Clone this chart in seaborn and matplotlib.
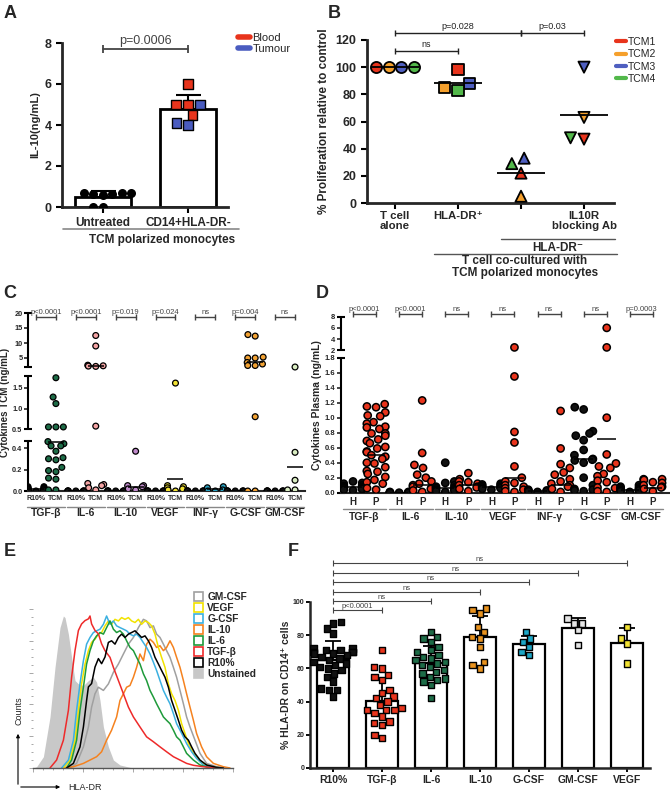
import warnings
import numpy as np
import pandas as pd
import matplotlib
matplotlib.use("Agg")
import matplotlib.pyplot as plt
from matplotlib.lines import Line2D
from matplotlib.patches import Patch, FancyArrowPatch
import seaborn as sns

warnings.filterwarnings("ignore")

# ---------------- data ----------------
# panel A
a_groups = ["Untreated", "CD14+HLA-DR-"]
a_untreated = [0.62, 0.66, 0.70, 0.64, 0.68, 0.60, 0.0, 0.0]
a_cd14 = [6.0, 5.0, 4.5, 5.0, 5.0, 4.0, 4.1]
a_cd14_src = ["Blood", "Blood", "Blood", "Blood", "Tumour", "Tumour", "Tumour"]

# panel B
b_conditions = ["T cell\nalone", "HLA-DR⁺", "HLA-DR⁻", "IL10R\nblocking Ab"]
b_tcm = ["TCM1", "TCM2", "TCM3", "TCM4"]
b_tcell = [100, 100, 100, 100]
b_hladr_pos = [98, 85, 88, 83]
b_hladr_neg = [22, 5, 33, 29]
b_il10r = [47, 63, 100, 48]
b_colors = ["#e8341c", "#f5a02c", "#4f5fc0", "#52b84a"]

# panel C
c_groups = ["TGF-β", "IL-6", "IL-10", "VEGF", "INF-γ", "G-CSF", "GM-CSF"]
c_r10 = [
    [0.04, 0.04, 0.03, 0.03, 0.02, 0.02, 0.02, 0.01, 0.01, 0.0],
    [0, 0, 0, 0, 0, 0, 0, 0],
    [0, 0, 0, 0, 0, 0, 0, 0],
    [0, 0, 0, 0, 0, 0, 0, 0],
    [0, 0, 0, 0, 0, 0, 0, 0],
    [0, 0, 0, 0, 0, 0, 0, 0],
    [0, 0, 0, 0, 0, 0, 0, 0],
]
c_tcm = [
    [1.75, 1.28, 1.12, 0.55, 0.55, 0.55, 0.46, 0.44, 0.42, 0.42, 0.37, 0.31,
     0.30, 0.29, 0.22, 0.19, 0.18, 0.12, 0.11, 0.01, 0.01],
    [12.5, 9.0, 2.6, 2.4, 2.3, 2.2, 0.57, 0.07, 0.06, 0.05, 0.03, 0.01],
    [0.37, 0.05, 0.05, 0.04, 0.02, 0.01],
    [1.62, 0.05, 0.04, 0.03, 0.02, 0.01, 0.0],
    [0.04, 0.03, 0.01, 0.0, 0.0],
    [12.8, 12.3, 5.3, 5.0, 5.0, 3.5, 3.0, 2.5, 2.5, 0.8, 0.0, 0.0],
    [2.0, 0.36, 0.10, 0.01, 0.01],
]
c_r10_line = [0.02, 0, 0, 0, 0, 0, 0]
c_tcm_line = [0.46, 2.4, 0.04, 0.11, 0.02, 3.6, 0.22]
c_pvals = ["p<0.0001", "p<0.0001", "p=0.019", "p=0.024", "ns", "p=0.004", "ns"]
c_colors = ["#1d6c47", "#f4a3a3", "#c08acb", "#f2e234", "#2aa2c2", "#f2a233", "#d9edc2"]

# panel D
d_groups = ["TGF-β", "IL-6", "IL-10", "VEGF", "INF-γ", "G-CSF", "GM-CSF"]
d_h = [
    [0.15, 0.13, 0.12, 0.10, 0.09, 0.08, 0.08, 0.07, 0.07, 0.06, 0.06, 0.05, 0.05, 0.04, 0.03],
    [0.01, 0.01, 0.0, 0.0, 0.0, 0.0, 0.0, 0.0],
    [0.40, 0.15, 0.13, 0.10, 0.08, 0.07, 0.06, 0.05, 0.05, 0.04, 0.03, 0.02, 0.01],
    [0.12, 0.11, 0.10, 0.09, 0.08, 0.07, 0.06, 0.05, 0.04],
    [0.04, 0.03, 0.03, 0.02, 0.02, 0.01],
    [1.14, 1.11, 0.82, 0.79, 0.76, 0.70, 0.57, 0.50, 0.45, 0.44, 0.43, 0.40,
     0.20, 0.10, 0.05, 0.04, 0.03, 0.02],
    [0.10, 0.08, 0.07, 0.06, 0.05, 0.04, 0.03, 0.02, 0.01],
]
d_p = [
    [1.18, 1.15, 1.14, 1.07, 1.03, 1.02, 0.94, 0.92, 0.88, 0.87, 0.85, 0.79,
     0.79, 0.76, 0.71, 0.69, 0.66, 0.61, 0.59, 0.55, 0.54, 0.50, 0.48, 0.45,
     0.40, 0.39, 0.34, 0.29, 0.28, 0.25, 0.21, 0.17, 0.14, 0.12, 0.06, 0.04],
    [1.23, 0.53, 0.37, 0.33, 0.24, 0.20, 0.15, 0.12, 0.10, 0.08, 0.06, 0.05, 0.03, 0.01],
    [0.26, 0.18, 0.15, 0.14, 0.12, 0.10, 0.08, 0.07, 0.05, 0.02],
    [2.5, 1.55, 0.81, 0.67, 0.35, 0.20, 0.15, 0.13, 0.10, 0.08, 0.06, 0.04, 0.02, 0.01],
    [1.09, 0.59, 0.38, 0.33, 0.27, 0.24, 0.18, 0.15, 0.12, 0.10, 0.08, 0.05, 0.01],
    [6.0, 2.5, 1.0, 0.51, 0.39, 0.35, 0.33, 0.25, 0.22, 0.18, 0.16, 0.14, 0.07, 0.06, 0.02, 0.01],
    [0.18, 0.18, 0.17, 0.14, 0.13, 0.10, 0.08, 0.07, 0.05, 0.02],
]
d_h_line = [0.07, 0.0, 0.06, 0.07, 0.02, 0.45, 0.04]
d_p_line = [0.50, 0.10, 0.10, 0.19, 0.10, 0.72, 0.06]
d_pvals = ["p<0.0001", "p<0.0001", "ns", "ns", "ns", "ns", "p=0.0003"]

# panel E (HLA-DR channel vs % of max)
e_unst_x = [0, 1.8, 5.2, 8.5, 11, 13.5, 15.2, 16, 17.7, 19.3, 21, 22.7, 25.2, 27.7,
            30.2, 31.8, 33.5, 35.2, 37.7, 40.2, 43.5, 48.5, 52]
e_unst_y = [0, 0.8, 7.1, 32.1, 63.3, 88.3, 95.6, 94.6, 84.2, 69.6, 55, 52.9, 51.9, 55,
            57.1, 54, 42.5, 25.8, 13.3, 5, 1.9, 0.4, 0]
e_gm_x = [18.5, 21.8, 25.2, 27.7, 29.3, 31, 32.7, 35.2, 37.7, 40.2, 42.7, 45.2, 47.7,
          50.2, 52.7, 55.2, 56.8, 58.5, 60.2, 61.8, 63.5, 65.2, 66.8, 68.5, 70.2,
          71.8, 73.5, 75.2, 76.8, 78.5, 81, 83.5, 86.8, 91.8, 96.8]
e_gm_y = [0, 2.9, 13.3, 25.8, 38.3, 46.7, 50.8, 48.8, 52.9, 60.2, 65.4, 71.7, 77.9,
          82.1, 88.3, 93.5, 92.5, 88.3, 89.4, 84.2, 82.1, 77.9, 73.8, 69.6, 63.3,
          57.1, 48.8, 40.4, 32.1, 25.8, 17.5, 9.2, 2.9, 0.8, 0]
e_il10_x = [15.2, 20.2, 25.2, 28.5, 31.8, 34.3, 36.8, 39.3, 41.8, 43.5, 45.2, 46.8,
            48.5, 50.2, 51.8, 52.7, 53.5, 55.2, 56.8, 58.5, 60.2, 61.8, 63.5, 65.2,
            66.8, 68.5, 70.2, 71.8, 73.5, 75.2, 76.8, 78.5, 80.2, 81.8, 84.3, 86.8,
            90.2, 95.2, 98.5]
e_il10_y = [0, 0.8, 2.9, 5, 7.1, 10.2, 17.5, 23.8, 32.1, 42.5, 46.7, 50.8, 51.9,
            57.1, 63.3, 67.5, 71.7, 67.5, 77.9, 81, 79, 75.8, 76.9, 73.8, 75.8, 80,
            75.8, 69.6, 63.3, 55, 46.7, 38.3, 30, 21.7, 13.3, 7.1, 2.9, 0.8, 0]
e_vegf_x = [15.2, 18.5, 21, 22.7, 24.3, 26, 27.7, 29.3, 31, 32.7, 34.3, 36, 37.7,
            39.3, 41, 42.7, 44.3, 46, 47.7, 49.3, 51, 52.7, 54.3, 56, 57.7, 59.3,
            61, 62.7, 64.3, 66, 67.7, 69.3, 71, 72.7, 74.3, 76, 77.7, 80.2, 83.5,
            88.5, 93.5]
e_vegf_y = [0, 5, 17.5, 36.3, 52.9, 65.4, 73.8, 79, 81, 84.2, 85.2, 89.4, 92.5,
            90.4, 93.5, 92.5, 94.6, 93.5, 94.6, 92.5, 91.5, 93.5, 90.4, 92.5, 91.5,
            89.4, 84.2, 75.8, 69.6, 63.3, 52.9, 46.7, 42.5, 36.3, 27.9, 21.7, 15.4,
            9.2, 4, 0.8, 0]
e_gcsf_x = [14.3, 17.7, 20.2, 21.8, 23.5, 25.2, 26.8, 28.5, 30.2, 31.8, 33.5, 35.2,
            36.8, 38.5, 40.2, 41.8, 43.5, 45.2, 46.8, 48.5, 50.2, 51.8, 53.5, 55.2,
            56.8, 58.5, 60.2, 61.8, 63.5, 65.2, 66.8, 68.5, 70.2, 71.8, 73.5, 75.2,
            76.8, 79.3, 81.8, 85.2, 90.2]
e_gcsf_y = [0, 5, 17.5, 36.3, 52.9, 67.5, 77.9, 82.1, 85.2, 86.3, 87.3, 90.4, 95.6,
            90.4, 92.5, 89.4, 88.3, 87.3, 86.3, 84.2, 83.1, 84.2, 82.1, 78.8, 75.8,
            71.7, 66.5, 61.3, 55, 48.8, 44.6, 40.4, 34.2, 27.9, 23.8, 19.6, 15.4,
            10.2, 6, 1.9, 0]
e_il6_x = [16.8, 19.3, 21.8, 23.5, 25.2, 26.8, 28.5, 30.2, 31.8, 33.5, 35.2, 36.8,
           38.5, 40.2, 41.8, 43.5, 45.2, 46.8, 48.5, 50.2, 51.8, 53.5, 55.2, 56.8,
           58.5, 60.2, 61.8, 63.5, 65.2, 66.8, 68.5, 70.2, 71.8, 73.5, 75.2, 76.8,
           80.2, 83.5, 88.5]
e_il6_y = [0, 5, 17.5, 36.3, 50.8, 65.4, 73.8, 80, 83.1, 85.2, 84.2, 88.3, 92.5,
           87.3, 85.2, 86.3, 84.2, 80, 75.8, 73.8, 69.6, 65.4, 59.2, 55, 48.8, 44.6,
           40.4, 36.3, 32.1, 30, 27.9, 23.8, 19.6, 17.5, 13.3, 9.2, 5, 1.9, 0]
e_tgf_x = [8.5, 11.8, 15.2, 17.7, 19.3, 21, 22.7, 24.3, 26, 27.7, 28.5, 29.3, 31,
           32.7, 34.3, 36, 38.5, 40.2, 42.7, 45.2, 47.7, 50.2, 53.5, 56.8, 60.2,
           63.5, 66.8, 70.2, 73.5, 76.8, 80.2, 85.2, 91.8]
e_tgf_y = [0, 5, 17.5, 36.3, 57.1, 73.8, 86.5, 90.6, 92.7, 93.8, 95.6, 90.6, 86.5,
           84.4, 78.1, 73.8, 69.6, 63.3, 55, 46.7, 38.3, 32.1, 25.8, 19.6, 16.5,
           13.3, 10.2, 7.1, 5, 2.9, 1.7, 0.8, 0]
e_r10_x = [16.8, 20.2, 23.5, 25.2, 26.8, 27.7, 29.3, 31, 32.7, 34.3, 36, 37.7, 39.3,
           41, 42.7, 44.3, 46, 47.7, 49.3, 51, 52.7, 54.3, 56, 57.7, 59.3, 61, 62.7,
           64.3, 66, 67.7, 69.3, 71, 72.7, 74.3, 76, 77.7, 79.3, 81, 83.5, 86.8,
           91.8, 95.2]
e_r10_y = [0, 2.9, 13.3, 25.8, 42.5, 51, 53.1, 63.5, 68.8, 65.6, 69.8, 79, 80,
           77.9, 82.1, 84.2, 82.1, 84.2, 85.2, 86.3, 84.2, 82.1, 83.1, 80, 75.8,
           69.6, 65.4, 61.3, 57.1, 50.8, 42.5, 36.3, 30, 23.8, 19.6, 17.5, 13.3,
           9.2, 5, 1.9, 0.4, 0]

# panel F
f_groups = ["R10%", "TGF-β", "IL-6", "IL-10", "G-CSF", "GM-CSF", "VEGF"]
f_r10 = [88, 87, 84, 81, 72, 72, 71, 71, 70, 70, 70, 69, 69, 68, 67, 66, 65, 64,
         63, 62, 61, 60, 59, 57, 55, 52, 48, 47, 47, 43]
f_tgf = [71, 61, 60, 56, 55, 53, 47, 45, 43, 42, 40, 38, 36, 35, 35, 35, 33, 31,
         28, 27, 26, 20, 18]
f_il6 = [82, 79, 78, 76, 73, 71, 70, 68, 67, 66, 65, 64, 63, 62, 61, 59, 58, 57,
         55, 54, 53, 52, 50, 42]
f_il10 = [96, 95, 93, 85, 82, 79, 78, 73, 64, 62, 60]
f_gcsf = [82, 78, 76, 73, 70, 68]
f_gmcsf = [90, 87, 87, 83, 74]
f_vegf = [85, 78, 75, 63]
f_colors = ["#111111", "#e8341c", "#1d6c47", "#e8921e", "#1ca6c6", "#e4e4e4", "#f2e234"]
f_pvals = ["p<0.0001", "ns", "ns", "ns", "ns", "ns"]
f_bracket_y = [95.2, 100.6, 106.2, 112.0, 117.3, 123.3]

# ---------------- figure ----------------
sns.set_style("ticks")
plt.rcParams["font.family"] = ["Liberation Sans", "DejaVu Sans"]
plt.rcParams["font.weight"] = "bold"
plt.rcParams["axes.labelweight"] = "bold"

W, H = 670, 795
fig = plt.figure(figsize=(W / 100, H / 100), dpi=100)


def axes_px(l, t, r, b):
    return fig.add_axes([l / W, 1 - b / H, (r - l) / W, (b - t) / H])


def ftext(x, y, s, **kw):
    fig.text(x / W, 1 - y / H, s, **kw)


def fline(x0, x1, y, **kw):
    fig.add_artist(Line2D([x0 / W, x1 / W], [1 - y / H, 1 - y / H],
                          transform=fig.transFigure, **kw))


def bracket(ax, x0, x1, y, txt, lw=1.0, ms=5, fs=6, color="#333333",
            transform=None, weight="normal", pad=1.5):
    tr = transform if transform is not None else ax.transData
    ax.plot([x0, x1], [y, y], color=color, lw=lw, marker="|", ms=ms, mew=lw,
            transform=tr, clip_on=False)
    ax.annotate(txt, xy=((x0 + x1) / 2, y), xycoords=tr, xytext=(0, pad),
                textcoords="offset points", ha="center", va="bottom",
                fontsize=fs, color=color, fontweight=weight, annotation_clip=False)


def style_axes(ax, lw=2):
    sns.despine(ax=ax)
    for s in ["left", "bottom"]:
        ax.spines[s].set_linewidth(lw)
    ax.tick_params(width=lw * 0.75, length=4, color="black")


# ---------- A ----------
ax = axes_px(62, 43, 228, 207)
dfa = pd.DataFrame({
    "group": [a_groups[0]] * len(a_untreated) + [a_groups[1]] * len(a_cd14),
    "val": a_untreated + a_cd14,
    "src": ["none"] * len(a_untreated) + a_cd14_src,
})
sns.barplot(data=dfa, x="group", y="val", order=a_groups, color="white",
            edgecolor="black", linewidth=2, errorbar=None, width=0.66, ax=ax)
for i, g in enumerate(a_groups):
    v = dfa.loc[dfa.group == g, "val"]
    ax.errorbar(i, v.mean(), yerr=[[0], [v.std()]], color="black", lw=1.5,
                capsize=9, capthick=1.5, zorder=3)
sns.swarmplot(data=dfa[dfa.group == a_groups[0]], x="group", y="val", order=a_groups,
              color="black", size=6.5, ax=ax, zorder=4)
sns.swarmplot(data=dfa[dfa.group == a_groups[1]], x="group", y="val", order=a_groups,
              hue="src", palette={"Blood": "#e8341c", "Tumour": "#4a5cc0"}, marker="s",
              size=7, edgecolor="black", linewidth=1, legend=False, ax=ax, zorder=4)
ax.set_ylim(0, 8)
ax.set_yticks([0, 2, 4, 6, 8])
ax.set_xlim(-0.48, 1.47)
ax.set_xlabel("")
ax.set_ylabel("IL-10(ng/mL)", fontsize=8)
ax.yaxis.set_label_coords(-0.13, 0.5)
style_axes(ax)
ax.tick_params(axis="y", labelsize=9)
ax.tick_params(axis="x", labelsize=8.5, pad=3)
bracket(ax, 0, 1, 7.7, "p=0.0006", lw=1.3, ms=6, fs=9, color="#444444")
fig.legend(handles=[Line2D([], [], color="#e8341c", lw=4), Line2D([], [], color="#4a5cc0", lw=4)],
           labels=["Blood", "Tumour"], loc="upper left", bbox_to_anchor=(238 / W, 1 - 33 / H),
           frameon=False, handlelength=1.1, handletextpad=0.2, labelspacing=0.05,
           borderpad=0, borderaxespad=0, prop={"size": 8, "weight": "normal"})
fline(63, 239, 229, color="#888888", lw=1.2)
ftext(162, 240, "TCM polarized monocytes", ha="center", va="center", fontsize=8.5)
ftext(4, 14, "A", fontsize=13, va="center")

# ---------- B ----------
ax = axes_px(367, 40, 614, 203)
b_sets = [(b_tcell, "o"), (b_hladr_pos, "s"), (b_hladr_neg, "^"), (b_il10r, "v")]
b_pal = dict(zip(b_tcm, b_colors))
for cond, (vals, mk) in zip(b_conditions, b_sets):
    dfb = pd.DataFrame({"cond": cond, "tcm": b_tcm, "val": vals})
    if len(set(vals)) == 1:
        # identical values: one column per TCM, side by side
        sns.stripplot(data=dfb, x="cond", y="val", order=b_conditions, hue="tcm",
                      hue_order=b_tcm, palette=b_pal, dodge=True, jitter=False,
                      marker=mk, size=8, edgecolor="black", linewidth=1.3,
                      legend=False, ax=ax, zorder=4)
    else:
        sns.swarmplot(data=dfb, x="cond", y="val", order=b_conditions, hue="tcm",
                      palette=b_pal, marker=mk, size=8, edgecolor="black", linewidth=1.3,
                      legend=False, ax=ax, zorder=4)
    i = b_conditions.index(cond)
    ax.hlines(np.mean(vals), i - 0.38, i + 0.38, color="black", lw=1.3, zorder=5)
ax.set_ylim(0, 120)
ax.set_yticks(range(0, 121, 20))
ax.set_xlim(-0.444, 3.476)
ax.set_xticks(range(4))
ax.set_xticklabels(["T cell\nalone", "HLA-DR⁺", "", "IL10R\nblocking Ab"], fontsize=8.2)
for lab in ax.get_xticklabels():
    lab.set_linespacing(1.0)
ax.set_xlabel("")
ax.set_ylabel("% Proliferation relative to control", fontsize=8.5)
ax.yaxis.set_label_coords(-0.15, 0.5)
style_axes(ax)
ax.tick_params(axis="y", labelsize=9)
ax.tick_params(axis="x", pad=2)
bracket(ax, 0, 1, 112, "ns", lw=1, ms=5, fs=6.5, color="#222222")
bracket(ax, 0, 2, 125, "p=0.028", lw=1, ms=5, fs=6.5, color="#222222")
bracket(ax, 2, 3, 125, "p=0.03", lw=1, ms=5, fs=6.5, color="#222222")
fig.legend(handles=[Line2D([], [], color=c, lw=3) for c in b_colors], labels=b_tcm,
           loc="upper left", bbox_to_anchor=(616 / W, 1 - 37 / H), frameon=False,
           handlelength=1.0, handletextpad=0.15, labelspacing=0.22, borderpad=0,
           borderaxespad=0, prop={"size": 7.5, "weight": "normal"})
fline(501, 615, 238.5, color="#555555", lw=1)
ftext(558, 248, "HLA-DR⁻", ha="center", va="center", fontsize=8.5)
fline(434, 617, 254, color="#555555", lw=1)
ftext(525, 267, "T cell co-cultured with\nTCM polarized monocytes", ha="center",
      va="center", fontsize=8.5, linespacing=1.1)
ftext(328, 14, "B", fontsize=13, va="center")


def broken_left_axis(ax, segments, lw=1.5):
    ax.spines["left"].set_visible(False)
    tr = ax.get_yaxis_transform()
    for lo, hi in segments:
        ax.plot([0, 0], [lo, hi], color="black", lw=lw, transform=tr, clip_on=False)
        ax.plot([0, 0], [lo, hi], color="black", lw=0, marker="_", ms=6, mew=lw,
                transform=tr, clip_on=False)


def dot_panel(ax, groups, low, high, low_lab, high_lab, low_color, high_colors,
              low_line, high_line, size, lw_edge):
    cats, vals, rows_order = [], [], []
    pal = {}
    for k, g in enumerate(groups):
        a, b = f"{g}|{low_lab}", f"{g}|{high_lab}"
        rows_order += [a, b]
        pal[a] = low_color
        pal[b] = high_colors[k]
        cats += [a] * len(low[k]) + [b] * len(high[k])
        vals += list(low[k]) + list(high[k])
    df = pd.DataFrame({"cat": cats, "val": vals})
    sns.swarmplot(data=df, x="cat", y="val", order=rows_order, hue="cat", palette=pal,
                  size=size, edgecolor="black", linewidth=lw_edge, legend=False, ax=ax,
                  zorder=3)
    for k in range(len(groups)):
        ax.hlines(low_line[k], 2 * k - 0.4, 2 * k + 0.4, color="black", lw=1.1, zorder=4)
        ax.hlines(high_line[k], 2 * k + 0.6, 2 * k + 1.4, color="black", lw=1.1, zorder=4)
    ax.set_xticks(range(2 * len(groups)))
    ax.set_xticklabels([low_lab, high_lab] * len(groups))
    ax.set_xlabel("")


# ---------- C ----------
ax = axes_px(28, 313, 305, 491)
c_kv = [0, 0.47, 0.5, 1.8, 2.0, 20]
c_kp = [0, 50.5, 62, 115.3, 124, 178]
ax.set_yscale("function", functions=(lambda v: np.interp(v, c_kv, c_kp),
                                     lambda p: np.interp(p, c_kp, c_kv)))
ax.set_ylim(0, 20)
ax.set_xlim(-0.4, 13.5)
dot_panel(ax, c_groups, c_r10, c_tcm, "R10%", "TCM", "#111111", c_colors,
          c_r10_line, c_tcm_line, 4.2, 0.9)
ax.set_ylim(0, 20)
ax.set_xlim(-0.4, 13.5)
c_ticks = [0, 0.2, 0.4, 0.5, 1.0, 1.5, 5, 10, 15, 20]
ax.set_yticks(c_ticks)
ax.set_yticklabels(["0.0", "0.2", "0.4", "0.5", "1.0", "1.5", "5", "10", "15", "20"])
ax.yaxis.set_minor_locator(matplotlib.ticker.NullLocator())
ax.set_ylabel("Cytokines TCM (ng/mL)", fontsize=7)
ax.yaxis.set_label_coords(-0.066, 0.5)
sns.despine(ax=ax)
ax.spines["bottom"].set_linewidth(1.5)
broken_left_axis(ax, [(0, 0.47), (0.5, 1.8), (2.0, 20)])
ax.tick_params(axis="y", labelsize=5.3, length=3, width=1.2, pad=1)
ax.tick_params(axis="x", labelsize=5.0, length=0, pad=3)
trx = ax.get_xaxis_transform()
for k, g in enumerate(c_groups):
    bracket(ax, 2 * k, 2 * k + 1, 0.978, c_pvals[k], lw=1.0, ms=4, fs=5.5,
            color="#444444", transform=trx, pad=0.5)
    ax.plot([2 * k - 0.45, 2 * k + 1.45], [-0.09, -0.09], color="#888888", lw=1,
            transform=trx, clip_on=False)
    ax.text(2 * k + 0.5, -0.125, g, transform=trx, ha="center", va="center", fontsize=7.5)
ftext(3, 294, "C", fontsize=13, va="center")

# ---------- D ----------
ax = axes_px(341, 316.7, 669, 492.7)
d_kv = [0, 1.8, 2.0, 8]
d_kp = [0, 135, 142.5, 176]
ax.set_yscale("function", functions=(lambda v: np.interp(v, d_kv, d_kp),
                                     lambda p: np.interp(p, d_kp, d_kv)))
ax.set_ylim(0, 8)
ax.set_xlim(-0.52, 13.7)
dot_panel(ax, d_groups, d_h, d_p, "H", "P", "#111111", ["#e8341c"] * 7,
          d_h_line, d_p_line, 5.2, 1.1)
ax.set_ylim(0, 8)
ax.set_xlim(-0.52, 13.7)
d_ticks = [0, 0.2, 0.4, 0.6, 0.8, 1.0, 1.2, 1.4, 1.6, 1.8, 2, 4, 6, 8]
ax.set_yticks(d_ticks)
ax.set_yticklabels([f"{t:.1f}" for t in d_ticks[:10]] + ["2", "4", "6", "8"])
ax.yaxis.set_minor_locator(matplotlib.ticker.NullLocator())
ax.set_ylabel("Cytokines Plasma (ng/mL)", fontsize=7.5)
ax.yaxis.set_label_coords(-0.058, 0.5)
sns.despine(ax=ax)
ax.spines["bottom"].set_linewidth(1.5)
broken_left_axis(ax, [(0, 1.8), (2.0, 8)])
ax.tick_params(axis="y", labelsize=5.5, length=3, width=1.2, pad=1)
ax.tick_params(axis="x", labelsize=7, length=0, pad=3)
trx = ax.get_xaxis_transform()
for k, g in enumerate(d_groups):
    bracket(ax, 2 * k, 2 * k + 1, 1.015, d_pvals[k], lw=1.0, ms=4, fs=5.5,
            color="#444444", transform=trx, pad=0.5)
    ax.plot([2 * k - 0.45, 2 * k + 1.45], [-0.093, -0.093], color="#888888", lw=1,
            transform=trx, clip_on=False)
    ax.text(2 * k + 0.5, -0.138, g, transform=trx, ha="center", va="center", fontsize=7.5)
ftext(316, 294, "D", fontsize=13, va="center")

# ---------- E ----------
ax = axes_px(33, 609, 233, 768)
ax.fill_between(e_unst_x, e_unst_y, color="#c8c8c8", lw=0)
e_curves = [
    (e_gm_x, e_gm_y, "#a0a0a0"),
    (e_il10_x, e_il10_y, "#f5821f"),
    (e_vegf_x, e_vegf_y, "#f2e300"),
    (e_gcsf_x, e_gcsf_y, "#3bb0e0"),
    (e_il6_x, e_il6_y, "#1e9a3a"),
    (e_tgf_x, e_tgf_y, "#ee2a2a"),
    (e_r10_x, e_r10_y, "#000000"),
]
for xs, ys, col in e_curves:
    sns.lineplot(x=xs, y=ys, color=col, lw=1.1, ax=ax)
ax.set_xlim(0, 100)
ax.set_ylim(0, 100)
sns.despine(ax=ax, left=True)
ax.spines["bottom"].set_color("#555555")
ax.spines["bottom"].set_linewidth(1)
ax.set_yticks(range(0, 101, 20))
ax.set_xticks(range(0, 101, 25))
ax.set_xticks(range(0, 101, 5), minor=True)
ax.set_yticks(range(0, 101, 5), minor=True)
ax.tick_params(which="both", labelleft=False, labelbottom=False, color="#999999",
               width=0.6)
ax.tick_params(which="major", length=3)
ax.tick_params(which="minor", length=1.5)
e_labels = ["GM-CSF", "VEGF", "G-CSF", "IL-10", "IL-6", "TGF-β", "R10%"]
e_handles = [Patch(facecolor="white", edgecolor=c, lw=1.2)
             for c in ["#a0a0a0", "#f2e300", "#3bb0e0", "#f5821f", "#1e9a3a", "#ee2a2a", "#000000"]]
e_handles.append(Patch(facecolor="#c8c8c8", edgecolor="#c8c8c8", lw=1.2))
fig.legend(handles=e_handles, labels=e_labels + ["Unstained"], loc="upper left",
           bbox_to_anchor=(194 / W, 1 - 592 / H), frameon=False, handlelength=0.9,
           handleheight=0.9, handletextpad=0.4, labelspacing=0.1, borderpad=0,
           borderaxespad=0, prop={"size": 7.3, "weight": "bold"})
fig.add_artist(FancyArrowPatch((18 / W, 1 - 787 / H), (18 / W, 1 - 731 / H),
                               transform=fig.transFigure, arrowstyle="-|>",
                               mutation_scale=5, lw=0.8, color="black"))
fig.add_artist(FancyArrowPatch((18 / W, 1 - 787 / H), (63 / W, 1 - 787 / H),
                               transform=fig.transFigure, arrowstyle="-|>",
                               mutation_scale=5, lw=0.8, color="black"))
ftext(19, 711, "Counts", rotation=90, ha="center", va="center", fontsize=6.5,
      fontweight="normal")
ftext(68, 787, "HLA-DR", ha="left", va="center", fontsize=6.5, fontweight="normal")
ftext(4, 551, "E", fontsize=13, va="center")

# ---------- F ----------
ax = axes_px(310, 602, 650, 768)
f_sets = [f_r10, f_tgf, f_il6, f_il10, f_gcsf, f_gmcsf, f_vegf]
dff = pd.DataFrame({
    "group": sum([[g] * len(v) for g, v in zip(f_groups, f_sets)], []),
    "val": sum([list(v) for v in f_sets], []),
})
sns.barplot(data=dff, x="group", y="val", order=f_groups, color="white",
            edgecolor="black", linewidth=1.6, errorbar=None, width=0.67, ax=ax)
for i, g in enumerate(f_groups):
    v = dff.loc[dff.group == g, "val"]
    ax.errorbar(i, v.mean(), yerr=[[0], [v.std()]], color="black", lw=1.3,
                capsize=5.5, capthick=1.3, zorder=3)
sns.swarmplot(data=dff, x="group", y="val", order=f_groups, hue="group",
              palette=dict(zip(f_groups, f_colors)), marker="s", size=4.6,
              edgecolor="black", linewidth=1, legend=False, ax=ax, zorder=4)
ax.set_ylim(0, 100)
ax.set_yticks(range(0, 101, 20))
ax.set_xlim(-0.47, 6.47)
ax.set_xlabel("")
ax.set_ylabel("% HLA-DR on CD14⁺ cells", fontsize=7.5)
ax.yaxis.set_label_coords(-0.055, 0.5)
style_axes(ax, lw=1.8)
ax.tick_params(axis="y", labelsize=5, length=3, pad=1)
ax.tick_params(axis="x", labelsize=7.5, length=3, pad=2)
for j, (pv, yb) in enumerate(zip(f_pvals, f_bracket_y)):
    bracket(ax, 0, j + 1, yb, pv, lw=0.8, ms=4, fs=5.5, color="#444444", pad=0)
ftext(288, 551, "F", fontsize=13, va="center")

fig.savefig("out.png", dpi=100)
